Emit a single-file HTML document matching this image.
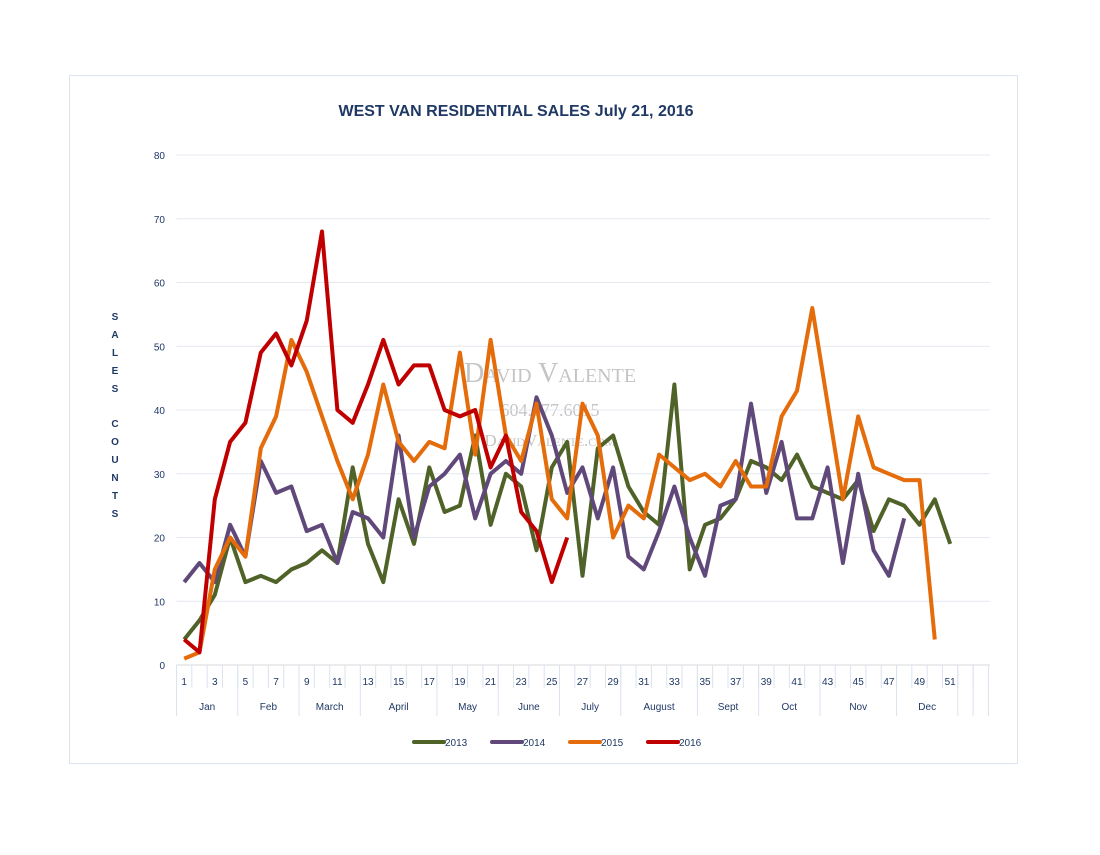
<!DOCTYPE html>
<html><head><meta charset="utf-8"><style>
body{margin:0;background:#fff;font-family:"Liberation Sans",sans-serif}
svg text{font-family:"Liberation Sans",sans-serif}
</style></head><body>
<svg id="c" width="1100" height="850">
<rect x="69.5" y="75.5" width="948" height="688" fill="#fff" stroke="#dbe3ef"/>
<text x="516" y="116" text-anchor="middle" font-size="16" font-weight="bold" fill="#1f3864">WEST VAN RESIDENTIAL  SALES July 21, 2016</text>
<g fill="#c4c4c4" text-anchor="middle">
<text x="550" y="382" font-size="28" style="font-family:'Liberation Serif',serif;font-variant:small-caps">David Valente</text>
<text x="550" y="416" font-size="18" style="font-family:'Liberation Serif',serif">604.377.6015</text>
<text x="550" y="446" font-size="17" style="font-family:'Liberation Serif',serif;font-variant:small-caps">DavidValente.com</text>
</g>
<g id="grid"></g><g id="axis"></g><g id="series"></g>
<g font-size="10" font-weight="bold" fill="#1f3864" text-anchor="middle">
<text x="115" y="320">S</text><text x="115" y="338">A</text><text x="115" y="356">L</text><text x="115" y="374">E</text><text x="115" y="392">S</text>
<text x="115" y="427">C</text><text x="115" y="445">O</text><text x="115" y="463">U</text><text x="115" y="481">N</text><text x="115" y="499">T</text><text x="115" y="517">S</text>
</g>
<g id="legend"></g>
</svg>
<script>
const weeks = Array.from({length:53},(_,i)=>i+1);
const yTicks = [0,10,20,30,40,50,60,70,80];
const months = ["Jan","Feb","March","April","May","June","July","August","Sept","Oct","Nov","Dec"];
const monthEnds = [4,8,12,17,21,25,29,34,38,42,47,51];
const seriesNames = ["2013","2014","2015","2016"];
const seriesColors = ["#4f6228","#60497a","#e46c0a","#c00000"];
const s2013 = [4,7,11,20,13,14,13,15,16,18,16,31,19,13,26,19,31,24,25,36,22,30,28,18,31,35,14,34,36,28,24,22,44,15,22,23,26,32,31,29,33,28,27,26,29,21,26,25,22,26,19];
const s2014 = [13,16,13,22,17,32,27,28,21,22,16,24,23,20,36,20,28,30,33,23,30,32,30,42,36,27,31,23,31,17,15,21,28,20,14,25,26,41,27,35,23,23,31,16,30,18,14,23];
const s2015 = [1,2,15,20,17,34,39,51,46,39,32,26,33,44,35,32,35,34,49,33,51,36,32,41,26,23,41,36,20,25,23,33,31,29,30,28,32,28,28,39,43,56,41,26,39,31,30,29,29,4];
const s2016 = [4,2,26,35,38,49,52,47,54,68,40,38,44,51,44,47,47,40,39,40,31,36,24,21,13,20];
const allSeries = [s2013,s2014,s2015,s2016];
const NS="http://www.w3.org/2000/svg";
const x0=176.5, bw=15.32, y0=665, yScale=510/80;
const X=w=>x0+(w-0.5)*bw, Y=v=>y0-v*yScale;
function mk(p,tag,attrs){const e=document.createElementNS(NS,tag);for(const k in attrs)e.setAttribute(k,attrs[k]);p.appendChild(e);return e;}
const grid=document.getElementById('grid'),axis=document.getElementById('axis'),ser=document.getElementById('series'),leg=document.getElementById('legend');
yTicks.forEach(t=>{
 const l=mk(grid,'line',{x1:x0,x2:990,y1:Y(t),y2:Y(t),stroke:t===0?'#d9d9d9':'#e4e8f0','stroke-width':1});
 
 
 const tx=mk(axis,'text',{x:165,y:Y(t)+4,'text-anchor':'end','font-size':10,fill:'#1f3864'});tx.textContent=t;
 
 
});
weeks.forEach(w=>{
 const bx=x0+w*bw;
 const tk=mk(axis,'line',{x1:bx,x2:bx,y1:665,y2:688,stroke:'#dbe3ef'});
 
 
 if(w%2===1&&w<=51){const t=mk(axis,'text',{x:X(w),y:685,'text-anchor':'middle','font-size':10,fill:'#1f3864'});t.textContent=w;
 
 }
});
let prev=0;
const seps=[0,...monthEnds,52,53];
seps.forEach(m=>{const bx=x0+m*bw;const l=mk(axis,'line',{x1:bx,x2:bx,y1:665,y2:716,stroke:'#dbe3ef'});
 
 });
months.forEach((m,i)=>{const s=prev,e=monthEnds[i];prev=e;
 const t=mk(axis,'text',{x:x0+(s+e)/2*bw,y:710,'text-anchor':'middle','font-size':10,fill:'#1f3864'});t.textContent=m;
 
 });
allSeries.forEach((d,i)=>{
 const pts=d.map((v,j)=>X(j+1).toFixed(1)+','+Y(v).toFixed(1)).join(' ');
 const p=mk(ser,'polyline',{points:pts,fill:'none',stroke:seriesColors[i],'stroke-width':4,'stroke-linejoin':'round'});
 
 
 const lx=414+i*78;
 const g=mk(leg,'g',{});
 
 
 mk(g,'line',{x1:lx,x2:lx+30,y1:742,y2:742,stroke:seriesColors[i],'stroke-width':4,'stroke-linecap':'round'});
 const t=mk(g,'text',{x:lx+31,y:746,'font-size':10,fill:'#1f3864'});t.textContent=seriesNames[i];
});
</script>
</body></html>
